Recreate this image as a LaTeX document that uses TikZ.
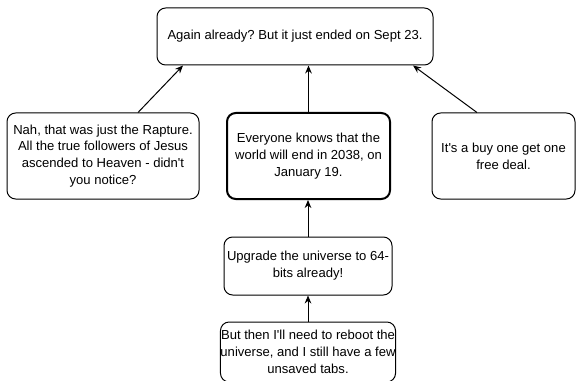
\documentclass[tikz,border=0pt]{standalone}
\usepackage{fontspec}
\setmainfont{Liberation Sans}
\usetikzlibrary{arrows.meta}
\newcommand{\aq}{\textquotesingle}
\frenchspacing
\begin{document}
\begin{tikzpicture}[x=0.75pt,y=-0.75pt,
  box/.style={draw=black, line width=0.75pt, rounded corners=6.5pt, align=center,
    font=\fontsize{9.8}{12.6}\selectfont\frenchspacing, inner sep=0pt, fill=white},
  arr/.style={draw=black, line width=0.75pt, -{Stealth[length=6pt,width=5pt]}}]
\useasboundingbox (0,0) rectangle (584,381);
\node[box, minimum width=276*0.75pt, minimum height=57*0.75pt] (top) at (295,36.5)
  {Again already? But it just ended on Sept 23.};
\node[box, minimum width=192*0.75pt, minimum height=86*0.75pt] (left) at (103,156)
  {Nah, that was just the Rapture.\\All the true followers of Jesus\\ascended to Heaven - didn\aq t\\you notice?};
\node[box, line width=1.5pt, minimum width=163*0.75pt, minimum height=86*0.75pt] (mid) at (308.5,156)
  {Everyone knows that the\\world will end in 2038, on\\January 19.};
\node[box, minimum width=143*0.75pt, minimum height=86*0.75pt] (right) at (503.5,156)
  {It\aq s a buy one get one\\free deal.};
\node[box, minimum width=168*0.75pt, minimum height=58*0.75pt] (up) at (308,266)
  {Upgrade the universe to 64-\\bits already!};
\node[box, minimum width=168*0.75pt, minimum height=60*0.75pt] (bot) at (308,352)
  {But then I\aq ll need to reboot the\\universe, and I still have a few\\unsaved tabs.};
\draw[arr] ([xshift=26.25pt]left.north) -- ([xshift=-84pt]top.south);
\draw[arr] ([xshift=-19.9pt]right.north) -- ([xshift=88.5pt]top.south);
\draw[arr] (mid.north) -- (mid.north |- top.south);
\draw[arr] (up.north) -- (up.north |- mid.south);
\draw[arr] (bot.north) -- (up.south);
\end{tikzpicture}
\end{document}
